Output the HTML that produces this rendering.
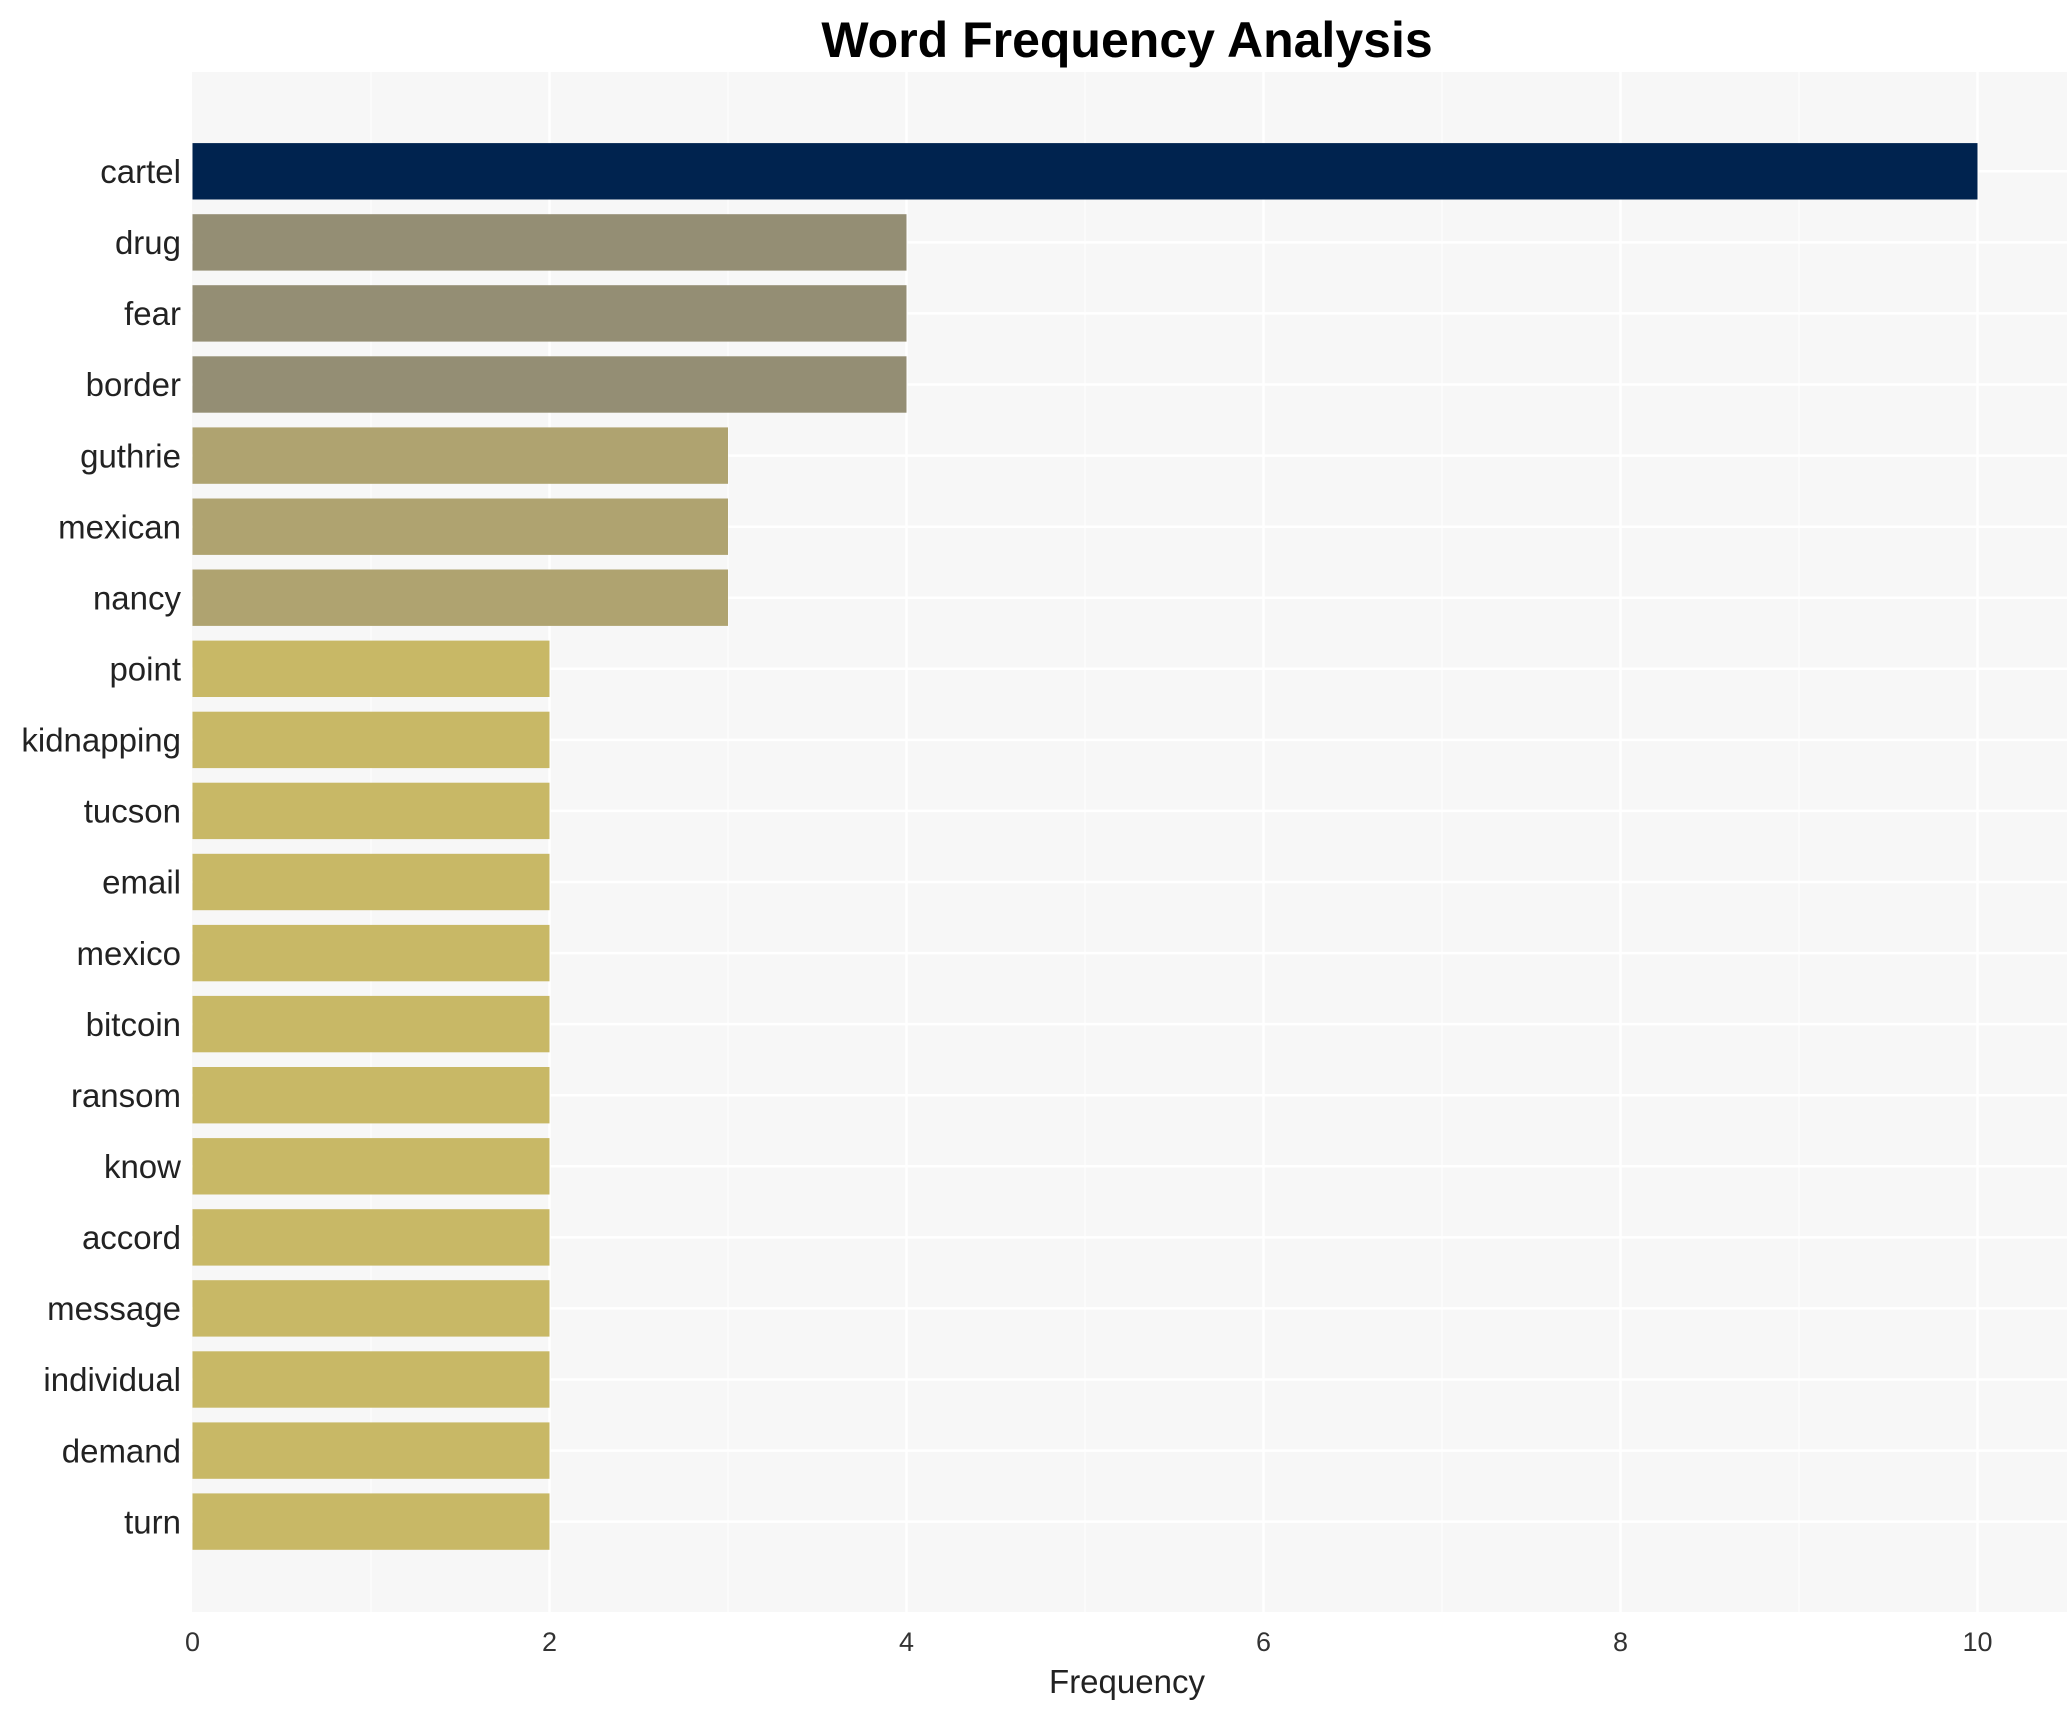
<!DOCTYPE html>
<html><head><meta charset="utf-8"><style>html,body{margin:0;padding:0;background:#fff}</style></head>
<body>
<svg width="2071" height="1710" xmlns="http://www.w3.org/2000/svg" font-family="Liberation Sans, Arial, sans-serif">
<rect width="2071" height="1710" fill="#fff"/>
<text x="1127" y="57" text-anchor="middle" font-size="50" font-weight="bold" fill="#000">Word Frequency Analysis</text>
<rect x="192" y="72" width="1875" height="1540" fill="#f7f7f7"/>
<g stroke="#ffffff" stroke-width="1">
<line x1="371" y1="72" x2="371" y2="1612"/><line x1="728" y1="72" x2="728" y2="1612"/><line x1="1085" y1="72" x2="1085" y2="1612"/><line x1="1442" y1="72" x2="1442" y2="1612"/><line x1="1799" y1="72" x2="1799" y2="1612"/>
</g>
<g stroke="#ffffff" stroke-width="2.5">
<line x1="549.5" y1="72" x2="549.5" y2="1612"/><line x1="906.5" y1="72" x2="906.5" y2="1612"/><line x1="1263.5" y1="72" x2="1263.5" y2="1612"/><line x1="1620.5" y1="72" x2="1620.5" y2="1612"/><line x1="1977.5" y1="72" x2="1977.5" y2="1612"/>
<line x1="192" y1="171.3" x2="2067" y2="171.3"/><line x1="192" y1="242.4" x2="2067" y2="242.4"/><line x1="192" y1="313.4" x2="2067" y2="313.4"/><line x1="192" y1="384.5" x2="2067" y2="384.5"/><line x1="192" y1="455.6" x2="2067" y2="455.6"/><line x1="192" y1="526.7" x2="2067" y2="526.7"/><line x1="192" y1="597.7" x2="2067" y2="597.7"/><line x1="192" y1="668.8" x2="2067" y2="668.8"/><line x1="192" y1="739.9" x2="2067" y2="739.9"/><line x1="192" y1="810.9" x2="2067" y2="810.9"/><line x1="192" y1="882" x2="2067" y2="882"/><line x1="192" y1="953.1" x2="2067" y2="953.1"/><line x1="192" y1="1024.1" x2="2067" y2="1024.1"/><line x1="192" y1="1095.2" x2="2067" y2="1095.2"/><line x1="192" y1="1166.3" x2="2067" y2="1166.3"/><line x1="192" y1="1237.4" x2="2067" y2="1237.4"/><line x1="192" y1="1308.4" x2="2067" y2="1308.4"/><line x1="192" y1="1379.5" x2="2067" y2="1379.5"/><line x1="192" y1="1450.6" x2="2067" y2="1450.6"/><line x1="192" y1="1521.6" x2="2067" y2="1521.6"/>
</g>
<g>
<rect x="192.5" y="143.1" width="1785" height="56.4" fill="#00234f"/>
<rect x="192.5" y="214.2" width="714" height="56.4" fill="#948e74"/>
<rect x="192.5" y="285.2" width="714" height="56.4" fill="#948e74"/>
<rect x="192.5" y="356.3" width="714" height="56.4" fill="#948e74"/>
<rect x="192.5" y="427.4" width="535.5" height="56.4" fill="#afa370"/>
<rect x="192.5" y="498.5" width="535.5" height="56.4" fill="#afa370"/>
<rect x="192.5" y="569.5" width="535.5" height="56.4" fill="#afa370"/>
<rect x="192.5" y="640.6" width="357" height="56.4" fill="#c8b866"/>
<rect x="192.5" y="711.7" width="357" height="56.4" fill="#c8b866"/>
<rect x="192.5" y="782.7" width="357" height="56.4" fill="#c8b866"/>
<rect x="192.5" y="853.8" width="357" height="56.4" fill="#c8b866"/>
<rect x="192.5" y="924.9" width="357" height="56.4" fill="#c8b866"/>
<rect x="192.5" y="995.9" width="357" height="56.4" fill="#c8b866"/>
<rect x="192.5" y="1067" width="357" height="56.4" fill="#c8b866"/>
<rect x="192.5" y="1138.1" width="357" height="56.4" fill="#c8b866"/>
<rect x="192.5" y="1209.2" width="357" height="56.4" fill="#c8b866"/>
<rect x="192.5" y="1280.2" width="357" height="56.4" fill="#c8b866"/>
<rect x="192.5" y="1351.3" width="357" height="56.4" fill="#c8b866"/>
<rect x="192.5" y="1422.4" width="357" height="56.4" fill="#c8b866"/>
<rect x="192.5" y="1493.4" width="357" height="56.4" fill="#c8b866"/>
</g>
<g font-size="33" fill="#222" text-anchor="end">
<text x="181" y="183">cartel</text>
<text x="181" y="254.1">drug</text>
<text x="181" y="325.1">fear</text>
<text x="181" y="396.2">border</text>
<text x="181" y="467.3">guthrie</text>
<text x="181" y="538.4">mexican</text>
<text x="181" y="609.4">nancy</text>
<text x="181" y="680.5">point</text>
<text x="181" y="751.6">kidnapping</text>
<text x="181" y="822.6">tucson</text>
<text x="181" y="893.7">email</text>
<text x="181" y="964.8">mexico</text>
<text x="181" y="1035.8">bitcoin</text>
<text x="181" y="1106.9">ransom</text>
<text x="181" y="1178">know</text>
<text x="181" y="1249.1">accord</text>
<text x="181" y="1320.1">message</text>
<text x="181" y="1391.2">individual</text>
<text x="181" y="1462.3">demand</text>
<text x="181" y="1533.3">turn</text>
</g>
<g font-size="27" fill="#333" text-anchor="middle">
<text x="192.5" y="1651">0</text><text x="549.5" y="1651">2</text><text x="906.5" y="1651">4</text><text x="1263.5" y="1651">6</text><text x="1620.5" y="1651">8</text><text x="1977.5" y="1651">10</text>
</g>
<text x="1127" y="1693" text-anchor="middle" font-size="33" fill="#222">Frequency</text>
</svg>
</body></html>
